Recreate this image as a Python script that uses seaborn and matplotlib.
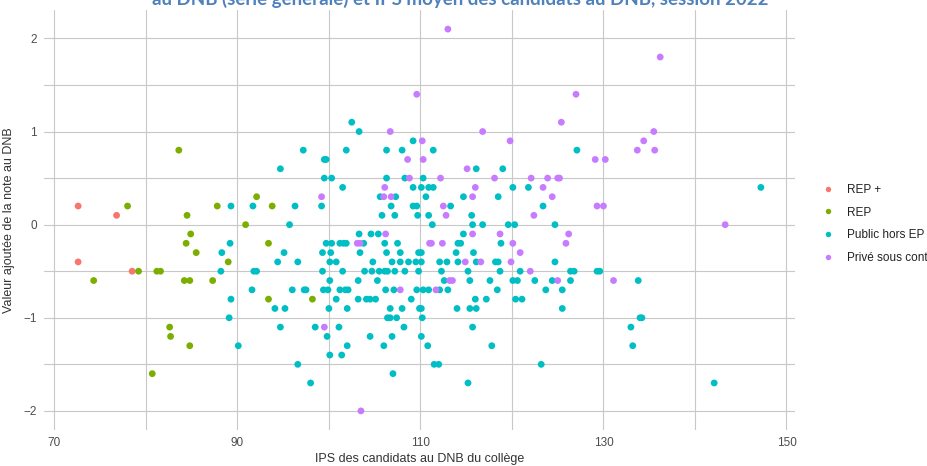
import pandas as pd
import numpy as np
import matplotlib
matplotlib.use("Agg")
import matplotlib.pyplot as plt
import seaborn as sns

# Categories and colours (ggplot default hue palette)
categories = ["REP +", "REP", "Public hors EP", "Privé sous contrat"]
palette = ["#F8766D", "#7CAE00", "#00BFC4", "#C77CFF"]

# REP +
rep_plus_x = [72.6, 76.8, 72.6, 78.5]
rep_plus_y = [0.2, 0.1, -0.4, -0.5]

# REP
rep_x = [78.0, 83.6, 84.5, 84.9, 84.4, 85.5, 87.8, 89.0, 79.2, 81.2, 81.6, 74.3,
         84.2, 84.8, 87.3, 82.6, 82.7, 84.8, 80.7, 92.1, 93.8, 90.9, 93.4, 93.4, 98.2]
rep_y = [0.2, 0.8, 0.1, -0.1, -0.2, -0.3, 0.2, -0.4, -0.5, -0.5, -0.5, -0.6,
         -0.6, -0.6, -0.6, -1.1, -1.2, -1.3, -1.6, 0.3, 0.2, 0.0, -0.2, -0.8, -0.8]

# Public hors EP
pub_x = [89.3, 89.2, 88.3, 88.2, 89.3, 89.1, 90.1,
         102.5, 103.3, 97.2, 101.9, 99.5, 99.7, 94.7, 99.5, 100.3, 101.5, 105.6,
         91.7, 96.3, 99.2, 105.8, 95.7, 103.3, 104.6, 105.4,
         99.7, 100.3, 101.2, 101.6, 101.9, 103.8,
         95.1, 99.3, 100.2, 103.4, 94.4, 96.6, 100.1, 100.8, 104.8,
         91.8, 92.1, 99.3, 101.5, 103.9, 104.7, 105.5,
         100.1, 103.2, 105.3,
         91.6, 96.0, 97.3, 97.5, 99.4, 99.9, 101.2, 101.8, 102.1,
         100.8, 103.2, 104.1, 104.5, 105.1,
         94.1, 95.2, 100.0, 102.0,
         94.7, 98.5, 101.1, 99.8, 104.5, 102.0, 106.0, 100.1, 101.4, 96.6, 98.0,
         109.2, 106.3, 108.0, 111.4, 116.1, 119.0, 106.3, 108.3, 110.3,
         109.2, 110.1, 110.9, 111.4, 120.1, 121.8,
         107.3, 110.6, 114.7, 118.5, 106.8, 109.2, 109.6, 113.3,
         107.2, 109.7, 110.9, 115.6, 111.3, 115.7, 116.8, 119.6, 120.3,
         114.7, 106.1, 107.5, 114.1, 114.4, 118.8,
         106.3, 107.8, 109.8, 110.1, 113.9, 115.8,
         106.9, 107.8, 108.7, 109.5, 110.1, 112.1, 112.9, 114.1, 116.1, 118.2, 118.5,
         106.1, 106.4, 107.2, 108.3, 109.8, 112.3, 115.2, 118.7, 120.9,
         112.6, 115.4, 117.6, 120.1, 120.6, 122.5,
         106.2, 107.1, 109.6, 110.3, 110.9, 112.1, 113.0, 118.4,
         109.0, 116.0, 117.2, 120.4, 121.1,
         106.7, 108.0, 109.9, 110.1, 114.0, 115.4, 116.1,
         106.4, 106.7, 107.4, 110.2, 108.2, 115.7, 106.9, 110.1,
         110.8, 117.8, 111.5, 112.0, 123.2, 107.0, 115.2,
         127.1, 123.4, 124.7, 124.7,
         126.4, 126.8, 129.3, 129.6, 124.4, 126.4, 133.8, 123.7, 125.5,
         125.5, 134.0, 134.2, 133.0, 133.2,
         147.2, 142.1]
pub_y = [0.2, -0.2, -0.3, -0.5, -0.8, -1.0, -1.3,
         1.1, 1.0, 0.8, 0.8, 0.7, 0.7, 0.6, 0.5, 0.5, 0.4, 0.3,
         0.2, 0.2, 0.2, 0.1, 0.0, -0.1, -0.1, -0.1,
         -0.2, -0.2, -0.2, -0.2, -0.2, -0.2,
         -0.3, -0.3, -0.3, -0.3, -0.4, -0.4, -0.4, -0.4, -0.4,
         -0.5, -0.5, -0.5, -0.5, -0.5, -0.5, -0.5,
         -0.6, -0.6, -0.6,
         -0.7, -0.7, -0.7, -0.7, -0.7, -0.7, -0.7, -0.7, -0.7,
         -0.8, -0.8, -0.8, -0.8, -0.8,
         -0.9, -0.9, -0.9, -0.9,
         -1.1, -1.1, -1.1, -1.2, -1.2, -1.3, -1.3, -1.4, -1.4, -1.5, -1.7,
         0.9, 0.8, 0.8, 0.8, 0.6, 0.6, 0.5, 0.5, 0.5,
         0.4, 0.4, 0.4, 0.4, 0.4, 0.4,
         0.3, 0.3, 0.3, 0.3, 0.2, 0.2, 0.2, 0.2,
         0.1, 0.1, 0.1, 0.1, 0.0, 0.0, 0.0, 0.0, 0.0,
         -0.1, -0.2, -0.2, -0.2, -0.2, -0.2,
         -0.3, -0.3, -0.3, -0.3, -0.3, -0.3,
         -0.4, -0.4, -0.4, -0.4, -0.4, -0.4, -0.4, -0.4, -0.4, -0.4, -0.4,
         -0.5, -0.5, -0.5, -0.5, -0.5, -0.5, -0.5, -0.5, -0.5,
         -0.6, -0.6, -0.6, -0.6, -0.6, -0.6,
         -0.7, -0.7, -0.7, -0.7, -0.7, -0.7, -0.7, -0.7,
         -0.8, -0.8, -0.8, -0.8, -0.8,
         -0.9, -0.9, -0.9, -0.9, -0.9, -0.9, -0.9,
         -1.0, -1.0, -1.0, -1.0, -1.1, -1.1, -1.2, -1.2,
         -1.3, -1.3, -1.5, -1.5, -1.5, -1.6, -1.7,
         0.8, 0.2, 0.0, -0.4,
         -0.5, -0.5, -0.5, -0.5, -0.6, -0.6, -0.6, -0.7, -0.7,
         -0.9, -1.0, -1.0, -1.1, -1.3,
         0.4, -1.7]

# Privé sous contrat
priv_x = [99.2, 103.1, 103.4, 99.5, 103.5,
          106.7, 116.8, 110.2, 119.8, 108.6, 110.3, 115.1, 108.8, 112.2, 118.1, 122.1,
          106.1, 116.0, 106.0, 106.8, 115.7, 112.5, 112.8, 122.4,
          106.2, 115.7, 118.7, 111.0, 111.2, 112.4, 120.1, 120.9, 114.9, 116.6, 119.9,
          122.0, 113.2, 113.5, 107.8, 111.7,
          125.4, 135.5, 134.4, 133.7, 135.6, 129.1, 130.2, 123.9, 125.0, 125.2,
          123.4, 124.4, 129.3, 130.0, 126.2, 125.9, 125.0, 131.1,
          113.0, 136.2, 109.6, 127.0, 143.3]
priv_y = [0.3, -0.2, -0.2, -1.1, -2.0,
          1.0, 1.0, 0.9, 0.9, 0.7, 0.7, 0.6, 0.5, 0.5, 0.5, 0.5,
          0.4, 0.4, 0.3, 0.3, 0.3, 0.2, 0.1, 0.1,
          -0.1, -0.1, -0.1, -0.2, -0.2, -0.2, -0.2, -0.3, -0.4, -0.4, -0.4,
          -0.5, -0.6, -0.6, -0.7, -0.7,
          1.1, 1.0, 0.9, 0.8, 0.8, 0.7, 0.7, 0.5, 0.5, 0.5,
          0.4, 0.3, 0.2, 0.2, -0.1, -0.2, -0.6, -0.6,
          2.1, 1.8, 1.4, 1.4, 0.0]

frames = []
for cat, xs, ys in zip(categories,
                       [rep_plus_x, rep_x, pub_x, priv_x],
                       [rep_plus_y, rep_y, pub_y, priv_y]):
    frames.append(pd.DataFrame({"ips": xs, "va": ys, "type": cat}))
df = pd.concat(frames, ignore_index=True)

sns.set_style("white")
plt.rcParams["font.family"] = ["Liberation Sans", "DejaVu Sans"]

fig = plt.figure(figsize=(9.27, 4.66), dpi=100)
ax = fig.add_axes([44 / 927, 1 - 430 / 466, (795 - 44) / 927, (430 - 10) / 466])

sns.scatterplot(data=df, x="ips", y="va", hue="type", hue_order=categories,
                palette=palette, s=24, linewidth=0, ax=ax, zorder=3)

# ggplot-like 5% expansion
xr = df["ips"].max() - df["ips"].min()
yr = df["va"].max() - df["va"].min()
ax.set_xlim(df["ips"].min() - 0.05 * xr, df["ips"].max() + 0.05 * xr)
ax.set_ylim(df["va"].min() - 0.05 * yr, df["va"].max() + 0.05 * yr)

ax.set_xticks([70, 90, 110, 130, 150])
ax.set_xticks([80, 100, 120, 140], minor=True)
ax.set_yticks([-2, -1, 0, 1, 2])
ax.set_yticks([-1.5, -0.5, 0.5, 1.5], minor=True)
ax.grid(True, which="both", color="#C8C8C8", linewidth=0.8)
ax.set_axisbelow(True)
for s in ax.spines.values():
    s.set_visible(False)
ax.tick_params(axis="both", which="major", length=3, width=0.8, color="#333333",
               labelsize=8.5, labelcolor="#4D4D4D", pad=2)
ax.tick_params(axis="both", which="minor", length=0)

ax.set_xlabel("IPS des candidats au DNB du collège", fontsize=9, color="#333333", labelpad=3)
ax.set_ylabel("Valeur ajoutée de la note au DNB", fontsize=9, color="#333333", labelpad=6)

# legend sits at the right edge; the last label runs off the picture as in the source
leg = ax.legend(loc="upper left", bbox_to_anchor=(1.022, 0.597), frameon=False,
                fontsize=8.5, markerscale=0.8, handletextpad=0.6, labelspacing=0.9,
                borderaxespad=0)
for t in leg.get_texts():
    t.set_color("#222222")

# second line of the title, mostly cut off at the top edge
fig.text(0.497, 461 / 466,
         "au DNB (série générale) et IPS moyen des candidats au DNB, session 2022",
         ha="center", va="baseline", fontsize=13.5, fontweight="bold",
         color="#4F81BD", family=["Lato", "DejaVu Sans"])

fig.savefig("out.png", dpi=100)
